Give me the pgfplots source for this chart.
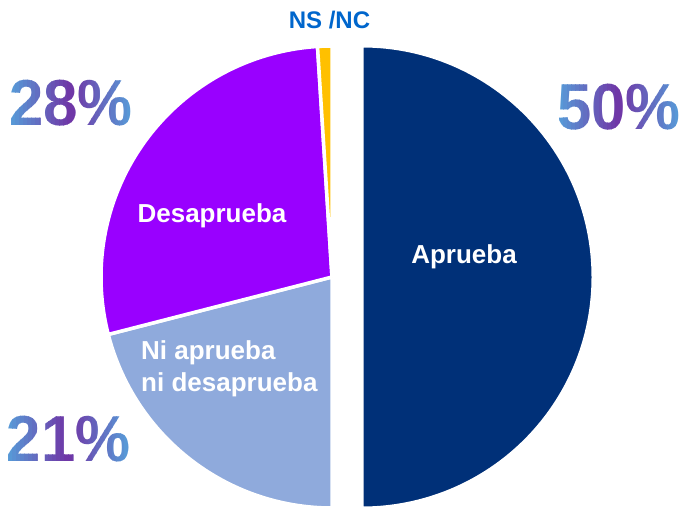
\documentclass[border=0pt]{standalone}
\usepackage{pgfplots}
\pgfplotsset{compat=1.18}
\usepackage{pgfplotstable}
\usepackage{fontspec}
\setmainfont{Liberation Sans}

\definecolor{cApr}{RGB}{0,48,120}
\definecolor{cNi}{RGB}{143,170,220}
\definecolor{cDes}{RGB}{153,0,255}
\definecolor{cNs}{RGB}{255,192,0}
\definecolor{cNsTxt}{RGB}{0,102,204}
\definecolor{gBlue}{RGB}{88,152,214}
\definecolor{gPur}{RGB}{112,52,165}

\newcommand\pctfont{\fontsize{65bp}{65bp}\selectfont\bfseries}

\newcommand\gradtext[2]{%
  \foreach \i in {0,...,37}{%
    \pgfmathsetmacro\xa{-76+4*\i}%
    \pgfmathsetmacro\xb{\xa+4.4}%
    \pgfmathsetmacro\xc{\xa+2}%
    \pgfmathsetmacro\pp{max(0,100-abs(\xc)/0.58)}%
    \begin{scope}[shift={(#1)}]
      \clip (\xa bp,-45bp) rectangle (\xb bp,45bp);
      \node[inner sep=0pt, xscale=0.95, text=gPur!\pp!gBlue, font=\pctfont] at (0,0) {#2};
    \end{scope}
  }%
}

\pgfplotstableread{
label value
Aprueba 50
Ni 21
Desaprueba 28
NSNC 1
}\piedata

\pgfplotstablegetelem{0}{value}\of\piedata \let\vA\pgfplotsretval
\pgfplotstablegetelem{1}{value}\of\piedata \let\vB\pgfplotsretval
\pgfplotstablegetelem{2}{value}\of\piedata \let\vC\pgfplotsretval
\pgfplotstablegetelem{3}{value}\of\piedata \let\vD\pgfplotsretval

\pgfmathsetmacro\aA{90}
\pgfmathsetmacro\aB{\aA-3.6*\vA}
\pgfmathsetmacro\aC{\aB-3.6*\vB}
\pgfmathsetmacro\aD{\aC-3.6*\vC}
\pgfmathsetmacro\aE{\aD-3.6*\vD}

\newcommand\lblfont{\fontsize{26bp}{31bp}\selectfont\bfseries}

\begin{document}
\begin{tikzpicture}
\useasboundingbox (0,0) rectangle (683bp,509bp);
\begin{axis}[
  at={(0,0)}, anchor=south west,
  width=683bp, height=509bp, scale only axis,
  xmin=0, xmax=683, ymin=0, ymax=509, y dir=reverse,
  hide axis, clip=false]
  % Aprueba (exploded right)
  \fill[cApr, draw=white, line width=3bp] (axis cs:362,277) -- ++(\aA:231bp) arc[start angle=\aA, end angle=\aB, radius=231bp] -- cycle;
  % Ni aprueba ni desaprueba
  \fill[cNi, draw=white, line width=3.5bp] (axis cs:332,277) -- ++(\aB:231bp) arc[start angle=\aB, end angle=\aC, radius=231bp] -- cycle;
  % Desaprueba
  \fill[cDes, draw=white, line width=3.5bp] (axis cs:332,277) -- ++(\aC:231bp) arc[start angle=\aC, end angle=\aD, radius=231bp] -- cycle;
  % NS/NC
  \fill[cNs, draw=white, line width=3.5bp] (axis cs:332,277) -- ++(\aD:231bp) arc[start angle=\aD, end angle=\aE, radius=231bp] -- cycle;

  \node[anchor=base, text=white, inner sep=0pt, font=\lblfont] at (axis cs:464,263) {Aprueba};
  \node[anchor=base, text=white, inner sep=0pt, font=\lblfont] at (axis cs:212,222) {Desaprueba};
  \node[anchor=base west, text=white, inner sep=0pt, font=\lblfont] at (axis cs:141,359) {Ni aprueba};
  \node[anchor=base west, text=white, inner sep=0pt, font=\lblfont] at (axis cs:141,391) {ni desaprueba};
  \node[anchor=base, text=cNsTxt, inner sep=0pt, font=\fontsize{24bp}{28bp}\selectfont\bfseries] at (axis cs:329.5,29) {NS /NC};

  \coordinate (p50) at (axis cs:619,107);
  \coordinate (p28) at (axis cs:71,103);
  \coordinate (p21) at (axis cs:68.5,439);
\end{axis}
\gradtext{p50}{50\%}
\gradtext{p28}{28\%}
\gradtext{p21}{21\%}
\end{tikzpicture}
\end{document}
